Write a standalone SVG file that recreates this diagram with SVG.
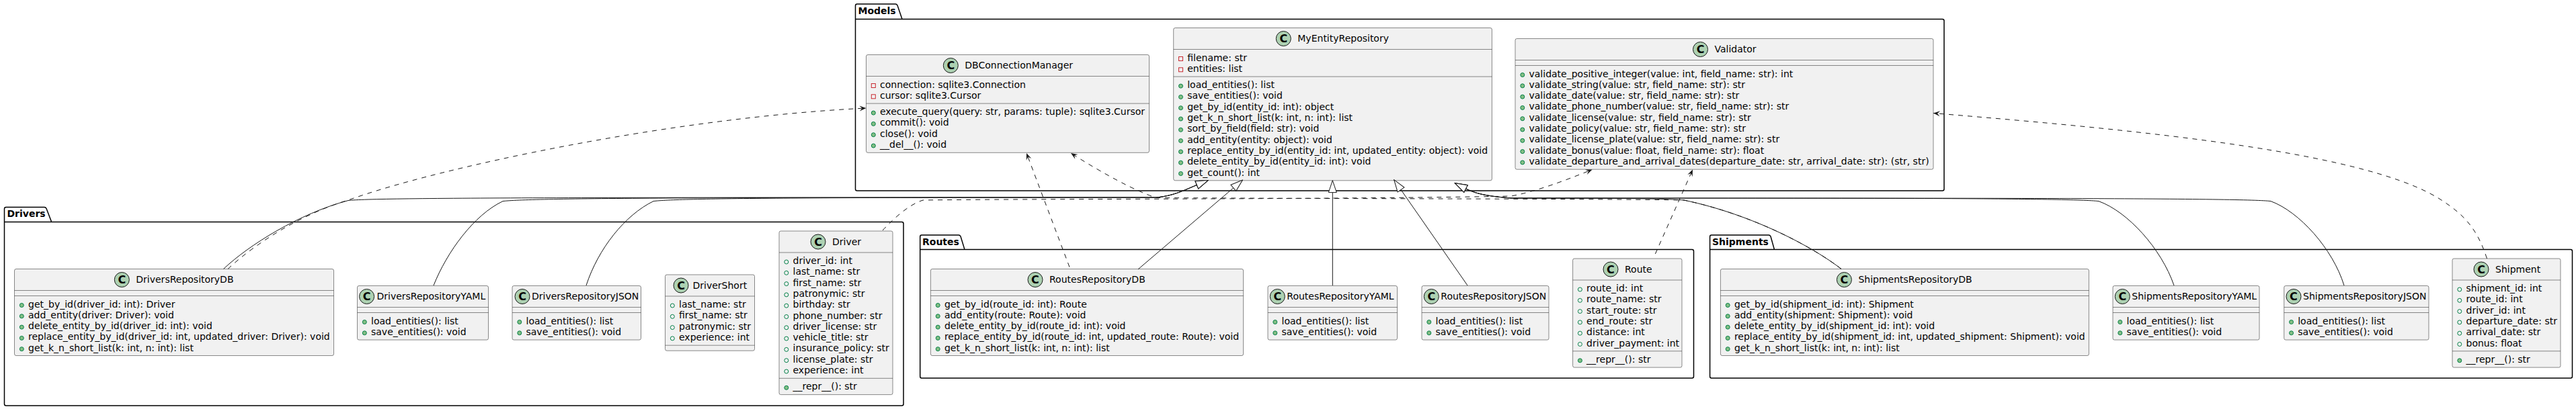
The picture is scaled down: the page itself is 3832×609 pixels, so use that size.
<svg xmlns="http://www.w3.org/2000/svg" width="3832" height="609" viewBox="0 0 3832 609">
<style>
text{font-family:"DejaVu Sans",sans-serif;font-size:14px;fill:#000}
.pn{font-weight:bold}
.pk{fill:none;stroke:#000;stroke-width:1.5}
.box{fill:#F1F1F1;stroke:#181818;stroke-width:.5}
.sep{stroke:#181818;stroke-width:.5}
.ci{fill:#ADD1B2;stroke:#181818;stroke-width:1}
.cc{font-weight:bold;font-size:16px;text-anchor:middle}
.ln{fill:none;stroke:#181818;stroke-width:1}
.ext{marker-end:url(#ext)}
.dep{stroke-dasharray:7,7;marker-end:url(#dep)}
</style>
<defs>
<marker id="ext" markerWidth="20" markerHeight="14" refX="1" refY="7" orient="auto" markerUnits="userSpaceOnUse"><path d="M1 1L19 7L1 13Z" fill="#fff" stroke="#181818"/></marker>
<marker id="dep" markerWidth="12" markerHeight="10" refX="11" refY="5" orient="auto" markerUnits="userSpaceOnUse"><path d="M1 1L11 5L1 9L5 5Z" fill="#181818"/></marker>
<circle id="m" r="3" fill="#84BE84" stroke="#038048"/>
<circle id="f" r="3" fill="none" stroke="#038048"/>
<rect id="p" x="-3" y="-3" width="6" height="6" fill="none" stroke="#C82930"/>
</defs>

<g id="pkg-Models"><path class="pk" d="M1275 6H1332Q1334 6 1335 8L1342 28.5H2889.5Q2892 28.5 2892 31V281.5Q2892 284 2889.5 284H1275Q1272.5 284 1272.5 281.5V8.5Q1272.5 6 1275 6ZM1272.5 28.5H1342"/><text class="pn" x="1276.5" y="21">Models</text></g>
<g id="pkg-Drivers"><path class="pk" d="M9 308.5H66Q68 308.5 69 310.5L76.7 330.5H1341.5Q1344 330.5 1344 333V601.5Q1344 604 1341.5 604H9Q6.5 604 6.5 601.5V311Q6.5 308.5 9 308.5ZM6.5 330.5H76.7"/><text class="pn" x="10.5" y="323">Drivers</text></g>
<g id="pkg-Routes"><path class="pk" d="M1371 350H1426Q1428 350 1429 352L1435 371.6H2517Q2519.5 371.6 2519.5 374V560.5Q2519.5 563 2517 563H1371Q1368.7 563 1368.7 560.5V352.5Q1368.7 350 1371 350ZM1368.7 371.6H1435"/><text class="pn" x="1372" y="364.5">Routes</text></g>
<g id="pkg-Shipments"><path class="pk" d="M2546 350H2631Q2633 350 2634 352L2639.5 371.6H3824Q3826.5 371.6 3826.5 374V560.5Q3826.5 563 3824 563H2546Q2543.6 563 2543.6 560.5V352.5Q2543.6 350 2546 350ZM2543.6 371.6H2639.5"/><text class="pn" x="2547" y="364.5">Shipments</text></g>

<g id="DBConnectionManager" transform="translate(1288.5 81.5)"><rect class="box" width="421" height="145.8" rx="2.5"/><path class="sep" d="M0 32H421M0 72.6H421"/><circle class="ci" cx="125.8" cy="16" r="11"/><text class="cc" x="125.8" y="21.7">C</text><text x="146.8" y="20.7">DBConnectionManager</text>
<use href="#p" x="10.8" y="46"/><text x="20.5" y="49">connection: sqlite3.Connection</text>
<use href="#p" x="10.8" y="62.3"/><text x="20.5" y="65.3">cursor: sqlite3.Cursor</text>
<use href="#m" x="10.8" y="86.6"/><text x="20.5" y="89.6">execute_query(query: str, params: tuple): sqlite3.Cursor</text>
<use href="#m" x="10.8" y="102.9"/><text x="20.5" y="105.9">commit(): void</text>
<use href="#m" x="10.8" y="119.2"/><text x="20.5" y="122.2">close(): void</text>
<use href="#m" x="10.8" y="135.5"/><text x="20.5" y="138.5">__del__(): void</text></g>

<g id="MyEntityRepository" transform="translate(1745.7 41.5)"><rect class="box" width="473.7" height="227.3" rx="2.5"/><path class="sep" d="M0 32H473.7M0 72.6H473.7"/><circle class="ci" cx="163.6" cy="16" r="11"/><text class="cc" x="163.6" y="21.7">C</text><text x="184.6" y="20.7">MyEntityRepository</text>
<use href="#p" x="10.8" y="46"/><text x="20.5" y="49">filename: str</text>
<use href="#p" x="10.8" y="62.3"/><text x="20.5" y="65.3">entities: list</text>
<use href="#m" x="10.8" y="86.6"/><text x="20.5" y="89.6">load_entities(): list</text>
<use href="#m" x="10.8" y="102.9"/><text x="20.5" y="105.9">save_entities(): void</text>
<use href="#m" x="10.8" y="119.2"/><text x="20.5" y="122.2">get_by_id(entity_id: int): object</text>
<use href="#m" x="10.8" y="135.5"/><text x="20.5" y="138.5">get_k_n_short_list(k: int, n: int): list</text>
<use href="#m" x="10.8" y="151.8"/><text x="20.5" y="154.8">sort_by_field(field: str): void</text>
<use href="#m" x="10.8" y="168.1"/><text x="20.5" y="171.1">add_entity(entity: object): void</text>
<use href="#m" x="10.8" y="184.4"/><text x="20.5" y="187.4">replace_entity_by_id(entity_id: int, updated_entity: object): void</text>
<use href="#m" x="10.8" y="200.7"/><text x="20.5" y="203.7">delete_entity_by_id(entity_id: int): void</text>
<use href="#m" x="10.8" y="217"/><text x="20.5" y="220">get_count(): int</text></g>

<g id="Validator" transform="translate(2254 57.5)"><rect class="box" width="622" height="194.7" rx="2.5"/><path class="sep" d="M0 32H622M0 40H622"/><circle class="ci" cx="275.5" cy="16" r="11"/><text class="cc" x="275.5" y="21.7">C</text><text x="296.5" y="20.7">Validator</text>
<use href="#m" x="10.8" y="54"/><text x="20.5" y="57">validate_positive_integer(value: int, field_name: str): int</text>
<use href="#m" x="10.8" y="70.3"/><text x="20.5" y="73.3">validate_string(value: str, field_name: str): str</text>
<use href="#m" x="10.8" y="86.6"/><text x="20.5" y="89.6">validate_date(value: str, field_name: str): str</text>
<use href="#m" x="10.8" y="102.9"/><text x="20.5" y="105.9">validate_phone_number(value: str, field_name: str): str</text>
<use href="#m" x="10.8" y="119.2"/><text x="20.5" y="122.2">validate_license(value: str, field_name: str): str</text>
<use href="#m" x="10.8" y="135.5"/><text x="20.5" y="138.5">validate_policy(value: str, field_name: str): str</text>
<use href="#m" x="10.8" y="151.8"/><text x="20.5" y="154.8">validate_license_plate(value: str, field_name: str): str</text>
<use href="#m" x="10.8" y="168.1"/><text x="20.5" y="171.1">validate_bonus(value: float, field_name: str): float</text>
<use href="#m" x="10.8" y="184.4"/><text x="20.5" y="187.4">validate_departure_and_arrival_dates(departure_date: str, arrival_date: str): (str, str)</text></g>

<g id="DriversRepositoryDB" transform="translate(21.5 400.5)"><rect class="box" width="475" height="129" rx="2.5"/><path class="sep" d="M0 32H475M0 40H475"/><circle class="ci" cx="159.8" cy="16" r="11"/><text class="cc" x="159.8" y="21.7">C</text><text x="180.8" y="20.7">DriversRepositoryDB</text>
<use href="#m" x="10.8" y="54"/><text x="20.5" y="57">get_by_id(driver_id: int): Driver</text>
<use href="#m" x="10.8" y="70.3"/><text x="20.5" y="73.3">add_entity(driver: Driver): void</text>
<use href="#m" x="10.8" y="86.6"/><text x="20.5" y="89.6">delete_entity_by_id(driver_id: int): void</text>
<use href="#m" x="10.8" y="102.9"/><text x="20.5" y="105.9">replace_entity_by_id(driver_id: int, updated_driver: Driver): void</text>
<use href="#m" x="10.8" y="119.2"/><text x="20.5" y="122.2">get_k_n_short_list(k: int, n: int): list</text></g>

<g id="DriversRepositoryYAML" transform="translate(531.5 425.5)"><rect class="box" width="195" height="80.6" rx="2.5"/><path class="sep" d="M0 32H195M0 40H195"/><circle class="ci" cx="14.1" cy="16" r="11"/><text class="cc" x="14.1" y="21.7">C</text><text x="29" y="20.7">DriversRepositoryYAML</text>
<use href="#m" x="10.8" y="54"/><text x="20.5" y="57">load_entities(): list</text>
<use href="#m" x="10.8" y="70.3"/><text x="20.5" y="73.3">save_entities(): void</text></g>

<g id="DriversRepositoryJSON" transform="translate(762 425.5)"><rect class="box" width="191.5" height="80.6" rx="2.5"/><path class="sep" d="M0 32H191.5M0 40H191.5"/><circle class="ci" cx="15" cy="16" r="11"/><text class="cc" x="15" y="21.7">C</text><text x="29" y="20.7">DriversRepositoryJSON</text>
<use href="#m" x="10.8" y="54"/><text x="20.5" y="57">load_entities(): list</text>
<use href="#m" x="10.8" y="70.3"/><text x="20.5" y="73.3">save_entities(): void</text></g>

<g id="DriverShort" transform="translate(989.5 409)"><rect class="box" width="133" height="113.2" rx="2.5"/><path class="sep" d="M0 32H133M0 105.2H133"/><circle class="ci" cx="23.5" cy="16" r="11"/><text class="cc" x="23.5" y="21.7">C</text><text x="41" y="20.7">DriverShort</text>
<use href="#f" x="10.8" y="46"/><text x="20.5" y="49">last_name: str</text>
<use href="#f" x="10.8" y="62.3"/><text x="20.5" y="65.3">first_name: str</text>
<use href="#f" x="10.8" y="78.6"/><text x="20.5" y="81.6">patronymic: str</text>
<use href="#f" x="10.8" y="94.9"/><text x="20.5" y="97.9">experience: int</text></g>

<g id="Driver" transform="translate(1159 344)"><rect class="box" width="169" height="243.6" rx="2.5"/><path class="sep" d="M0 32H169M0 219.3H169"/><circle class="ci" cx="58" cy="16" r="11"/><text class="cc" x="58" y="21.7">C</text><text x="79" y="20.7">Driver</text>
<use href="#f" x="10.8" y="46"/><text x="20.5" y="49">driver_id: int</text>
<use href="#f" x="10.8" y="62.3"/><text x="20.5" y="65.3">last_name: str</text>
<use href="#f" x="10.8" y="78.6"/><text x="20.5" y="81.6">first_name: str</text>
<use href="#f" x="10.8" y="94.9"/><text x="20.5" y="97.9">patronymic: str</text>
<use href="#f" x="10.8" y="111.2"/><text x="20.5" y="114.2">birthday: str</text>
<use href="#f" x="10.8" y="127.5"/><text x="20.5" y="130.5">phone_number: str</text>
<use href="#f" x="10.8" y="143.8"/><text x="20.5" y="146.8">driver_license: str</text>
<use href="#f" x="10.8" y="160.1"/><text x="20.5" y="163.1">vehicle_title: str</text>
<use href="#f" x="10.8" y="176.4"/><text x="20.5" y="179.4">insurance_policy: str</text>
<use href="#f" x="10.8" y="192.7"/><text x="20.5" y="195.7">license_plate: str</text>
<use href="#f" x="10.8" y="209"/><text x="20.5" y="212">experience: int</text>
<use href="#m" x="10.8" y="233.3"/><text x="20.5" y="236.3">__repr__(): str</text></g>

<g id="RoutesRepositoryDB" transform="translate(1384.4 400.5)"><rect class="box" width="465.2" height="129" rx="2.5"/><path class="sep" d="M0 32H465.2M0 40H465.2"/><circle class="ci" cx="155.6" cy="16" r="11"/><text class="cc" x="155.6" y="21.7">C</text><text x="176.6" y="20.7">RoutesRepositoryDB</text>
<use href="#m" x="10.8" y="54"/><text x="20.5" y="57">get_by_id(route_id: int): Route</text>
<use href="#m" x="10.8" y="70.3"/><text x="20.5" y="73.3">add_entity(route: Route): void</text>
<use href="#m" x="10.8" y="86.6"/><text x="20.5" y="89.6">delete_entity_by_id(route_id: int): void</text>
<use href="#m" x="10.8" y="102.9"/><text x="20.5" y="105.9">replace_entity_by_id(route_id: int, updated_route: Route): void</text>
<use href="#m" x="10.8" y="119.2"/><text x="20.5" y="122.2">get_k_n_short_list(k: int, n: int): list</text></g>

<g id="RoutesRepositoryYAML" transform="translate(1886 425.5)"><rect class="box" width="192.5" height="80.6" rx="2.5"/><path class="sep" d="M0 32H192.5M0 40H192.5"/><circle class="ci" cx="14.3" cy="16" r="11"/><text class="cc" x="14.3" y="21.7">C</text><text x="28.3" y="20.7">RoutesRepositoryYAML</text>
<use href="#m" x="10.8" y="54"/><text x="20.5" y="57">load_entities(): list</text>
<use href="#m" x="10.8" y="70.3"/><text x="20.5" y="73.3">save_entities(): void</text></g>

<g id="RoutesRepositoryJSON" transform="translate(2115 425.5)"><rect class="box" width="189" height="80.6" rx="2.5"/><path class="sep" d="M0 32H189M0 40H189"/><circle class="ci" cx="14.3" cy="16" r="11"/><text class="cc" x="14.3" y="21.7">C</text><text x="28.3" y="20.7">RoutesRepositoryJSON</text>
<use href="#m" x="10.8" y="54"/><text x="20.5" y="57">load_entities(): list</text>
<use href="#m" x="10.8" y="70.3"/><text x="20.5" y="73.3">save_entities(): void</text></g>

<g id="Route" transform="translate(2339.6 385)"><rect class="box" width="162.4" height="162.1" rx="2.5"/><path class="sep" d="M0 32H162.4M0 137.8H162.4"/><circle class="ci" cx="56.4" cy="16" r="11"/><text class="cc" x="56.4" y="21.7">C</text><text x="77.4" y="20.7">Route</text>
<use href="#f" x="10.8" y="46"/><text x="20.5" y="49">route_id: int</text>
<use href="#f" x="10.8" y="62.3"/><text x="20.5" y="65.3">route_name: str</text>
<use href="#f" x="10.8" y="78.6"/><text x="20.5" y="81.6">start_route: str</text>
<use href="#f" x="10.8" y="94.9"/><text x="20.5" y="97.9">end_route: str</text>
<use href="#f" x="10.8" y="111.2"/><text x="20.5" y="114.2">distance: int</text>
<use href="#f" x="10.8" y="127.5"/><text x="20.5" y="130.5">driver_payment: int</text>
<use href="#m" x="10.8" y="151.8"/><text x="20.5" y="154.8">__repr__(): str</text></g>

<g id="ShipmentsRepositoryDB" transform="translate(2559.4 400.5)"><rect class="box" width="548" height="129" rx="2.5"/><path class="sep" d="M0 32H548M0 40H548"/><circle class="ci" cx="184" cy="16" r="11"/><text class="cc" x="184" y="21.7">C</text><text x="205" y="20.7">ShipmentsRepositoryDB</text>
<use href="#m" x="10.8" y="54"/><text x="20.5" y="57">get_by_id(shipment_id: int): Shipment</text>
<use href="#m" x="10.8" y="70.3"/><text x="20.5" y="73.3">add_entity(shipment: Shipment): void</text>
<use href="#m" x="10.8" y="86.6"/><text x="20.5" y="89.6">delete_entity_by_id(shipment_id: int): void</text>
<use href="#m" x="10.8" y="102.9"/><text x="20.5" y="105.9">replace_entity_by_id(shipment_id: int, updated_shipment: Shipment): void</text>
<use href="#m" x="10.8" y="119.2"/><text x="20.5" y="122.2">get_k_n_short_list(k: int, n: int): list</text></g>

<g id="ShipmentsRepositoryYAML" transform="translate(3143 425.5)"><rect class="box" width="218" height="80.6" rx="2.5"/><path class="sep" d="M0 32H218M0 40H218"/><circle class="ci" cx="14.3" cy="16" r="11"/><text class="cc" x="14.3" y="21.7">C</text><text x="28.3" y="20.7">ShipmentsRepositoryYAML</text>
<use href="#m" x="10.8" y="54"/><text x="20.5" y="57">load_entities(): list</text>
<use href="#m" x="10.8" y="70.3"/><text x="20.5" y="73.3">save_entities(): void</text></g>

<g id="ShipmentsRepositoryJSON" transform="translate(3397.7 425.5)"><rect class="box" width="215.3" height="80.6" rx="2.5"/><path class="sep" d="M0 32H215.3M0 40H215.3"/><circle class="ci" cx="14.3" cy="16" r="11"/><text class="cc" x="14.3" y="21.7">C</text><text x="28.3" y="20.7">ShipmentsRepositoryJSON</text>
<use href="#m" x="10.8" y="54"/><text x="20.5" y="57">load_entities(): list</text>
<use href="#m" x="10.8" y="70.3"/><text x="20.5" y="73.3">save_entities(): void</text></g>

<g id="Shipment" transform="translate(3648 385)"><rect class="box" width="161" height="162.1" rx="2.5"/><path class="sep" d="M0 32H161M0 137.8H161"/><circle class="ci" cx="43" cy="16" r="11"/><text class="cc" x="43" y="21.7">C</text><text x="64" y="20.7">Shipment</text>
<use href="#f" x="10.8" y="46"/><text x="20.5" y="49">shipment_id: int</text>
<use href="#f" x="10.8" y="62.3"/><text x="20.5" y="65.3">route_id: int</text>
<use href="#f" x="10.8" y="78.6"/><text x="20.5" y="81.6">driver_id: int</text>
<use href="#f" x="10.8" y="94.9"/><text x="20.5" y="97.9">departure_date: str</text>
<use href="#f" x="10.8" y="111.2"/><text x="20.5" y="114.2">arrival_date: str</text>
<use href="#f" x="10.8" y="127.5"/><text x="20.5" y="130.5">bonus: float</text>
<use href="#m" x="10.8" y="151.8"/><text x="20.5" y="154.8">__repr__(): str</text></g>

<g id="connectors">
<path class="ln ext" d="M332.5 400.5C370 365 445 318 518 298.5C560 294 900 294 1720 294C1745 292 1762 283 1780.4 275.4"/>
<path class="ln ext" d="M645 425C665 375 705 320 748 299.6C790 295 1000 294 1720 294C1745 292 1762 283 1780.4 275.4"/>
<path class="ln ext" d="M872 425C890 370 930 320 972 299.6C1010 295 1200 294 1720 294C1745 292 1762 283 1780.4 275.4"/>
<path class="ln ext" d="M1693 401L1834.8 279.8"/>
<path class="ln ext" d="M1982.3 425V286.6"/>
<path class="ln ext" d="M2183 425L2084 282.5"/>
<path class="ln ext" d="M2739 400.5C2700 370 2610 320 2505 298C2470 295 2350 295 2248 295C2225 293 2200 291 2180.5 281"/>
<path class="ln ext" d="M3234 425C3215 370 3165 315 3122 299.6C3080 295 2800 295 2248 295C2225 293 2200 291 2180.5 281"/>
<path class="ln ext" d="M3487 425C3470 370 3420 315 3378 299.6C3340 295 3000 295 2248 295C2225 293 2200 291 2180.5 281"/>
<path class="ln dep" d="M339 400.5C380 362 450 318 518 298C650 250 1000 175 1288.5 161"/>
<path class="ln dep" d="M1591 397.7L1527 228"/>
<path class="ln dep" d="M2739 400.5C2700 370 2610 320 2505 298C2400 296 2000 296 1720 294.5C1690 285 1640 258 1593 228"/>
<path class="ln dep" d="M1313 343C1325 330 1350 305 1373 298C1500 296 2000 297 2248 292C2285 285 2325 270 2368.6 252.5"/>
<path class="ln dep" d="M2462.4 378L2518 252.5"/>
<path class="ln dep" d="M3699.5 385C3685 340 3665 320 3635 300C3530 228 3200 195 2876 168.5"/>
</g>
</svg>
